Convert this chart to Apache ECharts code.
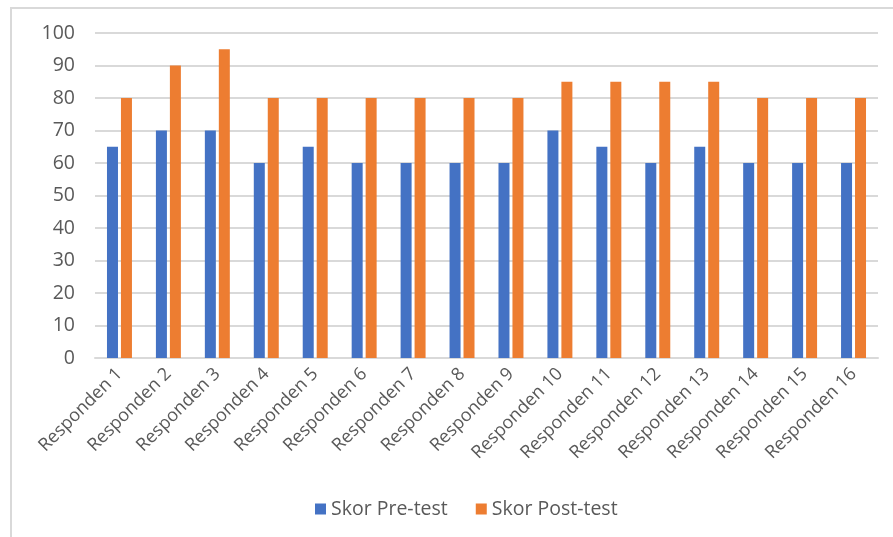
<!DOCTYPE html>
<html>
<head>
<meta charset="utf-8">
<script src="https://cdn.jsdelivr.net/npm/echarts@6/dist/echarts.min.js"></script>
<style>
  html, body { margin: 0; padding: 0; background: #fff; }
  #chart { width: 893px; height: 537px; }
</style>
</head>
<body>
<div id="chart"></div>
<script>
const categories = ['Responden 1', 'Responden 2', 'Responden 3', 'Responden 4', 'Responden 5', 'Responden 6',
  'Responden 7', 'Responden 8', 'Responden 9', 'Responden 10', 'Responden 11', 'Responden 12',
  'Responden 13', 'Responden 14', 'Responden 15', 'Responden 16']
const preTest = [65, 70, 70, 60, 65, 60, 60, 60, 60, 70, 65, 60, 65, 60, 60, 60]
const postTest = [80, 90, 95, 80, 80, 80, 80, 80, 80, 85, 85, 85, 85, 80, 80, 80]

let myChart = echarts.init(document.getElementById('chart'))
const font = '"Open Sans", sans-serif'
let option = {
  animation: false,
  textStyle: { fontFamily: font },
  graphic: [{
    type: 'rect',
    shape: { x: 11, y: 8, width: 1000, height: 700 },
    style: { fill: 'none', stroke: '#d9d9d9', lineWidth: 2 },
    silent: true,
  }],
  legend: {
    bottom: 13,
    left: 310,
    itemWidth: 11,
    itemHeight: 11,
    itemGap: 28,
    icon: 'rect',
    textStyle: { color: '#595959', fontSize: 19.5, fontFamily: font },
    data: ['Skor Pre-test', 'Skor Post-test'],
  },
  grid: {
    left: 95,
    right: 15,
    top: 33,
    bottom: 179,
    outerBoundsMode: 'none',
  },
  xAxis: {
    type: 'category',
    data: categories,
    axisTick: { show: false },
    axisLine: { lineStyle: { color: '#d9d9d9', width: 2 } },
    axisLabel: {
      rotate: 45,
      interval: 0,
      margin: 13,
      color: '#595959',
      fontSize: 18,
      fontFamily: font,
    },
  },
  yAxis: {
    type: 'value',
    min: 0,
    max: 100,
    interval: 10,
    axisLine: { show: false },
    axisTick: { show: false },
    axisLabel: { color: '#595959', fontSize: 19.5, margin: 20, fontFamily: font },
    splitLine: { lineStyle: { color: '#d9d9d9', width: 2 } },
  },
  series: [
    {
      name: 'Skor Pre-test',
      type: 'bar',
      data: preTest,
      barWidth: 11,
      barGap: '27%',
      itemStyle: { color: '#4472C4' },
    },
    {
      name: 'Skor Post-test',
      type: 'bar',
      data: postTest,
      barWidth: 11,
      itemStyle: { color: '#ED7D31' },
    },
  ],
}
myChart.setOption(option)
</script>
</body>
</html>
